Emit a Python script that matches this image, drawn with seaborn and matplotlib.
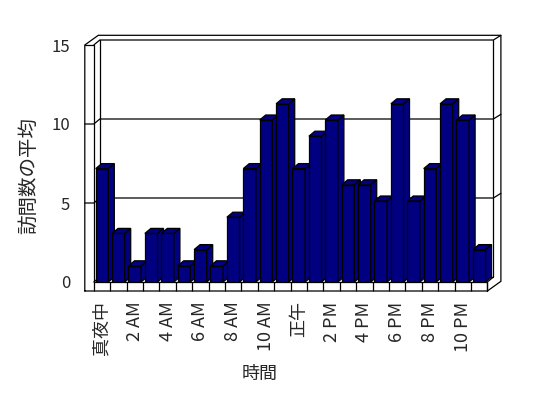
import numpy as np
import matplotlib
matplotlib.use("Agg")
import matplotlib.pyplot as plt
from matplotlib.patches import Polygon
import seaborn as sns

# ─── Data ───
hours = [
    "真夜中", "1 AM", "2 AM", "3 AM", "4 AM", "5 AM", "6 AM", "7 AM",
    "8 AM", "9 AM", "10 AM", "11 AM", "正午", "1 PM", "2 PM", "3 PM",
    "4 PM", "5 PM", "6 PM", "7 PM", "8 PM", "9 PM", "10 PM", "11 PM",
]
visits = [7, 3, 1, 3, 3, 1, 2, 1, 4, 7, 10, 11, 7, 9, 10, 6, 6, 5, 11, 5, 7, 11, 10, 2]
y_ticks = [0, 5, 10, 15]
gridlines = [5, 10]

BAR_COLOR = "#000080"
W, H = 548, 398

sns.set_style("white")
plt.rcParams["font.family"] = ["Noto Sans CJK JP", "DejaVu Sans"]

fig = plt.figure(figsize=(W / 100, H / 100), dpi=100)
fig.patch.set_facecolor("white")
ax = fig.add_axes([93.8 / W, (H - 282) / H, 393.6 / W, 243 / H])

sns.barplot(x=hours, y=visits, color=BAR_COLOR, saturation=1, width=0.77,
            edgecolor="black", linewidth=0.9, ax=ax)

# pixel -> data units (3D box is drawn with pixel offsets)
ux = len(hours) / 393.6
uy = y_ticks[-1] / 243.0
FRONT = 15.8 / 16.2          # front-plane axis scale vs bar scale
Di = (6, 5)                  # inner depth (floor / bars)
Do = (13.5, 9.7)             # outer depth (incl. wall thickness)
tx, ty = 9 * ux, 9 * uy      # wall / floor thickness

X0, X1 = -0.5, len(hours) - 0.5
Ytop = y_ticks[-1] * FRONT


def pt(x, y, d=(0, 0)):
    return (x + d[0] * ux, y + d[1] * uy)


def line(pts, z=2):
    xs, ys = zip(*pts)
    ax.plot(xs, ys, color="black", lw=0.9, clip_on=False, zorder=z,
            solid_joinstyle="miter")


# ─── 3D bar faces ───
for i, p in enumerate(ax.patches):
    x0, w, h = p.get_x(), p.get_width(), p.get_height()
    p.set_zorder(10 + 2 * i)
    side = [pt(x0 + w, 0), pt(x0 + w, h), pt(x0 + w, h, Di), pt(x0 + w, 0, Di)]
    top = [pt(x0, h), pt(x0 + w, h), pt(x0 + w, h, Di), pt(x0, h, Di)]
    for poly in (side, top):
        ax.add_patch(Polygon(poly, closed=True, facecolor=BAR_COLOR,
                             edgecolor="black", lw=0.9, zorder=11 + 2 * i,
                             clip_on=False))

# ─── walls / floor ───
for v in gridlines:
    yf = v * FRONT
    line([(X0 - tx, yf), (X0, yf), pt(X0, yf, Di), pt(X1, yf, Di), pt(X1, yf, Do)])

line([(X0 - tx, -ty), (X0 - tx, Ytop), pt(X0 - tx, Ytop, Do), pt(X1, Ytop, Do),
      pt(X1, -ty, Do), (X1, -ty), (X0 - tx, -ty)])
line([(X0 - tx, Ytop), (X0, Ytop), (X0, 0), (X1, 0), (X1, -ty)])
line([(X0, Ytop), pt(X0, Ytop, Di), pt(X1, Ytop, Di), pt(X1, Ytop, Do)])
line([pt(X0, Ytop, Di), pt(X0, 0, Di), pt(X1, 0, Di), pt(X1, Ytop, Di)])
line([(X1, 0), pt(X1, 0, Di)])
line([(X0, 0), pt(X0, 0, Di)])
ax.vlines(np.arange(len(hours) + 1) - 0.5, -ty, 0, color="black", lw=0.9,
          clip_on=False, zorder=2)

# ─── axes / labels ───
for s in ax.spines.values():
    s.set_visible(False)
ax.grid(False)
ax.set_xticks(range(0, len(hours), 2), hours[::2], rotation=90, fontsize=13)
ax.set_yticks([v * FRONT for v in y_ticks], [str(v) for v in y_ticks], fontsize=12)
ax.tick_params(axis="x", length=0, pad=14)
ax.tick_params(axis="y", length=0, pad=17)

ax.set_xlabel("時間", fontsize=13)
ax.xaxis.set_label_coords((260 - 93.8) / 393.6, (282 - 365) / 243)
ax.set_ylabel("訪問数の平均", fontsize=14)
ax.yaxis.set_label_coords((39 - 93.8) / 393.6, (282 - 175) / 243)

ax.set_xlim(X0, X1)
ax.set_ylim(0, y_ticks[-1])

fig.savefig("out.png", dpi=100, facecolor="white")
